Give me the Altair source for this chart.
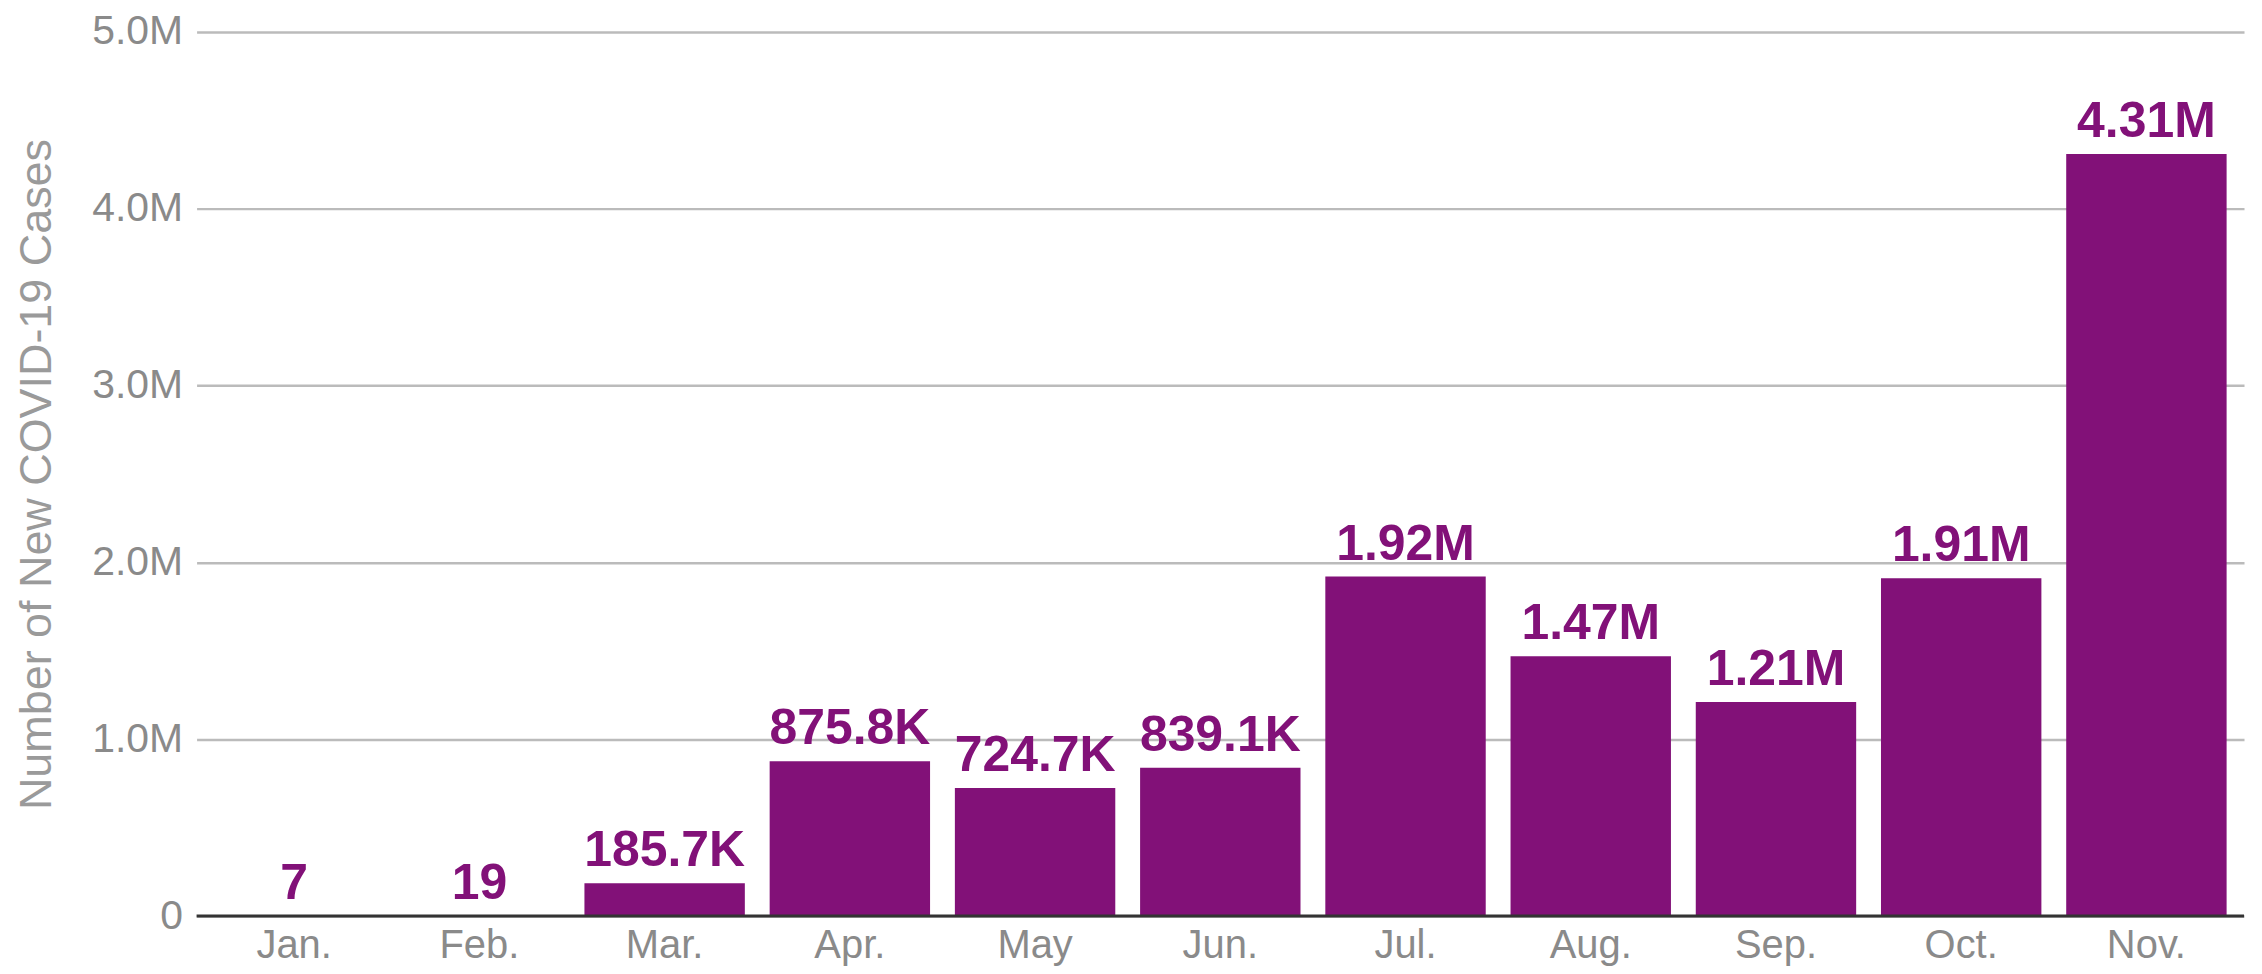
import altair as alt
import pandas as pd

months = ["Jan.", "Feb.", "Mar.", "Apr.", "May", "Jun.", "Jul.", "Aug.", "Sep.", "Oct.", "Nov."]
cases = [7, 19, 185700, 875800, 724700, 839100, 1920000, 1470000, 1210000, 1910000, 4310000]
value_labels = ["7", "19", "185.7K", "875.8K", "724.7K", "839.1K", "1.92M", "1.47M", "1.21M", "1.91M", "4.31M"]
y_ticks = [0, 1000000, 2000000, 3000000, 4000000, 5000000]

df = pd.DataFrame({"month": months, "cases": cases, "label": value_labels})

PURPLE = "#821178"

x_enc = alt.X(
    "month:N",
    sort=months,
    title=None,
    scale=alt.Scale(paddingInner=0.134, paddingOuter=0.094),
    axis=alt.Axis(
        domain=False,
        ticks=False,
        labelAngle=0,
        labelFont="Liberation Sans",
        labelFontSize=40,
        labelColor="#8a8a8a",
        labelPadding=10,
        grid=False,
    ),
)

y_enc = alt.Y(
    "cases:Q",
    title="Number of New COVID-19 Cases",
    scale=alt.Scale(domain=[0, 5000000], nice=False),
    axis=alt.Axis(
        values=y_ticks,
        labelExpr="datum.value == 0 ? '0' : format(datum.value / 1000000, '.1f') + 'M'",
        domain=False,
        ticks=False,
        labelFont="Liberation Sans",
        labelFontSize=41,
        labelColor="#8a8a8a",
        labelPadding=14,
        gridColor="#bbbbbb",
        gridWidth=2.5,
        titleFont="Liberation Sans",
        titleFontSize=45,
        titleFontWeight="normal",
        titleColor="#9a9a9a",
        titleX=-160,
        titleBaseline="middle",
    ),
)

base = alt.Chart(df)

bars = base.mark_bar(color=PURPLE).encode(x=x_enc, y=y_enc)

text = base.mark_text(
    color=PURPLE,
    font="Liberation Sans",
    fontSize=50,
    fontWeight="bold",
    baseline="alphabetic",
    dy=-17,
).encode(x=alt.X("month:N", sort=months), y=alt.Y("cases:Q"), text="label:N")

zero = alt.Chart(pd.DataFrame({"z": [0]})).mark_rule(color="#333333", strokeWidth=3).encode(y="z:Q")

chart = (
    alt.layer(bars, zero, text)
    .properties(
        width=2052,
        height=886,
        autosize=alt.AutoSizeParams(type="none"),
        padding={"left": 189, "top": 23, "right": 10, "bottom": 57},
    )
    .configure_view(stroke=None)
)

chart.save("out.html", embed_options={"renderer": "svg", "actions": False})
